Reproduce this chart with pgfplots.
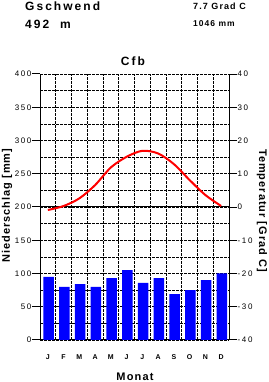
\documentclass[border=0pt]{standalone}
\usepackage{fontspec}
\setmainfont{Liberation Sans}
\usepackage{pgfplots}
\pgfplotsset{compat=1.18}
\newcommand{\tk}{\fontsize{8}{9}\selectfont\addfontfeature{LetterSpace=20}}
\newcommand{\tl}{\fontsize{12}{14}\selectfont\bfseries\addfontfeature{LetterSpace=17}}
\newcommand{\yl}{\fontsize{11}{13}\selectfont\bfseries\addfontfeature{LetterSpace=9}}
\begin{document}
\begin{tikzpicture}[x=1pt,y=1pt]
\useasboundingbox (0,0) rectangle (268,382);
\begin{axis}[at={(40pt,42pt)}, anchor=south west, scale only axis,
  width=189pt, height=266pt,
  xmin=0, xmax=12, ymin=0, ymax=400,
  axis x line=bottom, axis y line=left,
  axis line style={-, line width=1pt},
  xtick={0.5,1.5,...,11.5},
  xticklabels={J,F,M,A,M,J,J,A,S,O,N,D},
  x tick style={draw=none},
  minor xtick={1,2,...,11}, xminorgrids,
  ytick={0,50,...,400}, minor ytick={25,75,...,375},
  ymajorgrids, yminorgrids,
  tick align=outside, major tick length=8pt, minor tick length=0pt,
  y tick style={line width=1pt, black},
  major grid style={black, line width=0.6pt, dash pattern=on 2.5pt off 1.5pt},
  minor grid style={black, line width=0.6pt, dash pattern=on 2.5pt off 1.5pt},
  /pgf/number format/assume math mode=true,
  yticklabel style={font=\tk, inner xsep=0.5pt},
  xticklabel style={font=\fontsize{7}{8}\selectfont\bfseries, yshift=-3pt},
  ybar, bar width=10.5pt, bar shift=0.8pt,
]
\addplot[fill={rgb,255:red,0;green,0;blue,255}, draw=none] coordinates {
(0.5,95) (1.5,80) (2.5,84) (3.5,80) (4.5,93) (5.5,105)
(6.5,86) (7.5,93) (8.5,69) (9.5,75) (10.5,90) (11.5,100)};
\draw[black, line width=1pt] (axis cs:0,200) -- (axis cs:12,200);
\end{axis}
\begin{axis}[at={(40pt,42pt)}, anchor=south west, scale only axis,
  width=189pt, height=266pt,
  xmin=0, xmax=12, ymin=-40, ymax=40,
  axis x line=none, axis y line=right,
  axis line style={-, line width=1pt},
  ytick={-40,-30,...,40},
  tick align=outside, major tick length=8pt, minor tick length=0pt,
  y tick style={line width=1pt, black},
  /pgf/number format/assume math mode=true,
  yticklabel style={font=\tk, inner xsep=0.5pt},
]
\addplot[red, line width=2pt, smooth] coordinates {
(0.5,-0.9) (1.5,0.3) (2.5,2.6) (3.5,6.6) (4.5,11.9) (5.5,15.1)
(6.5,16.9) (7.5,16.1) (8.5,12.9) (9.5,8.1) (10.5,3.6) (11.5,0.3)};
\end{axis}
\node[anchor=base west, inner sep=0, font=\tl] at (25,371.3) {Gschwend};
\node[anchor=base west, inner sep=0, font=\tl] at (25,353.7) {492\ \ m};
\node[anchor=base west, inner sep=0, font=\fontsize{9}{10}\selectfont\bfseries\addfontfeature{LetterSpace=12}] at (193,372) {7.7 Grad C};
\node[anchor=base west, inner sep=0, font=\fontsize{8.5}{10}\selectfont\bfseries\addfontfeature{LetterSpace=12}] at (193,355) {1046 mm};
\node[inner sep=0, font=\tl] at (133,321) {Cfb};
\node[inner sep=0, font=\fontsize{11}{13}\selectfont\bfseries\addfontfeature{LetterSpace=11}] at (135,5) {Monat};
\node[inner sep=0, font=\yl, rotate=90] at (7,176.5) {Niederschlag [mm]};
\node[inner sep=0, font=\yl, rotate=-90] at (262,171.5) {Temperatur [Grad C]};
\end{tikzpicture}
\end{document}
